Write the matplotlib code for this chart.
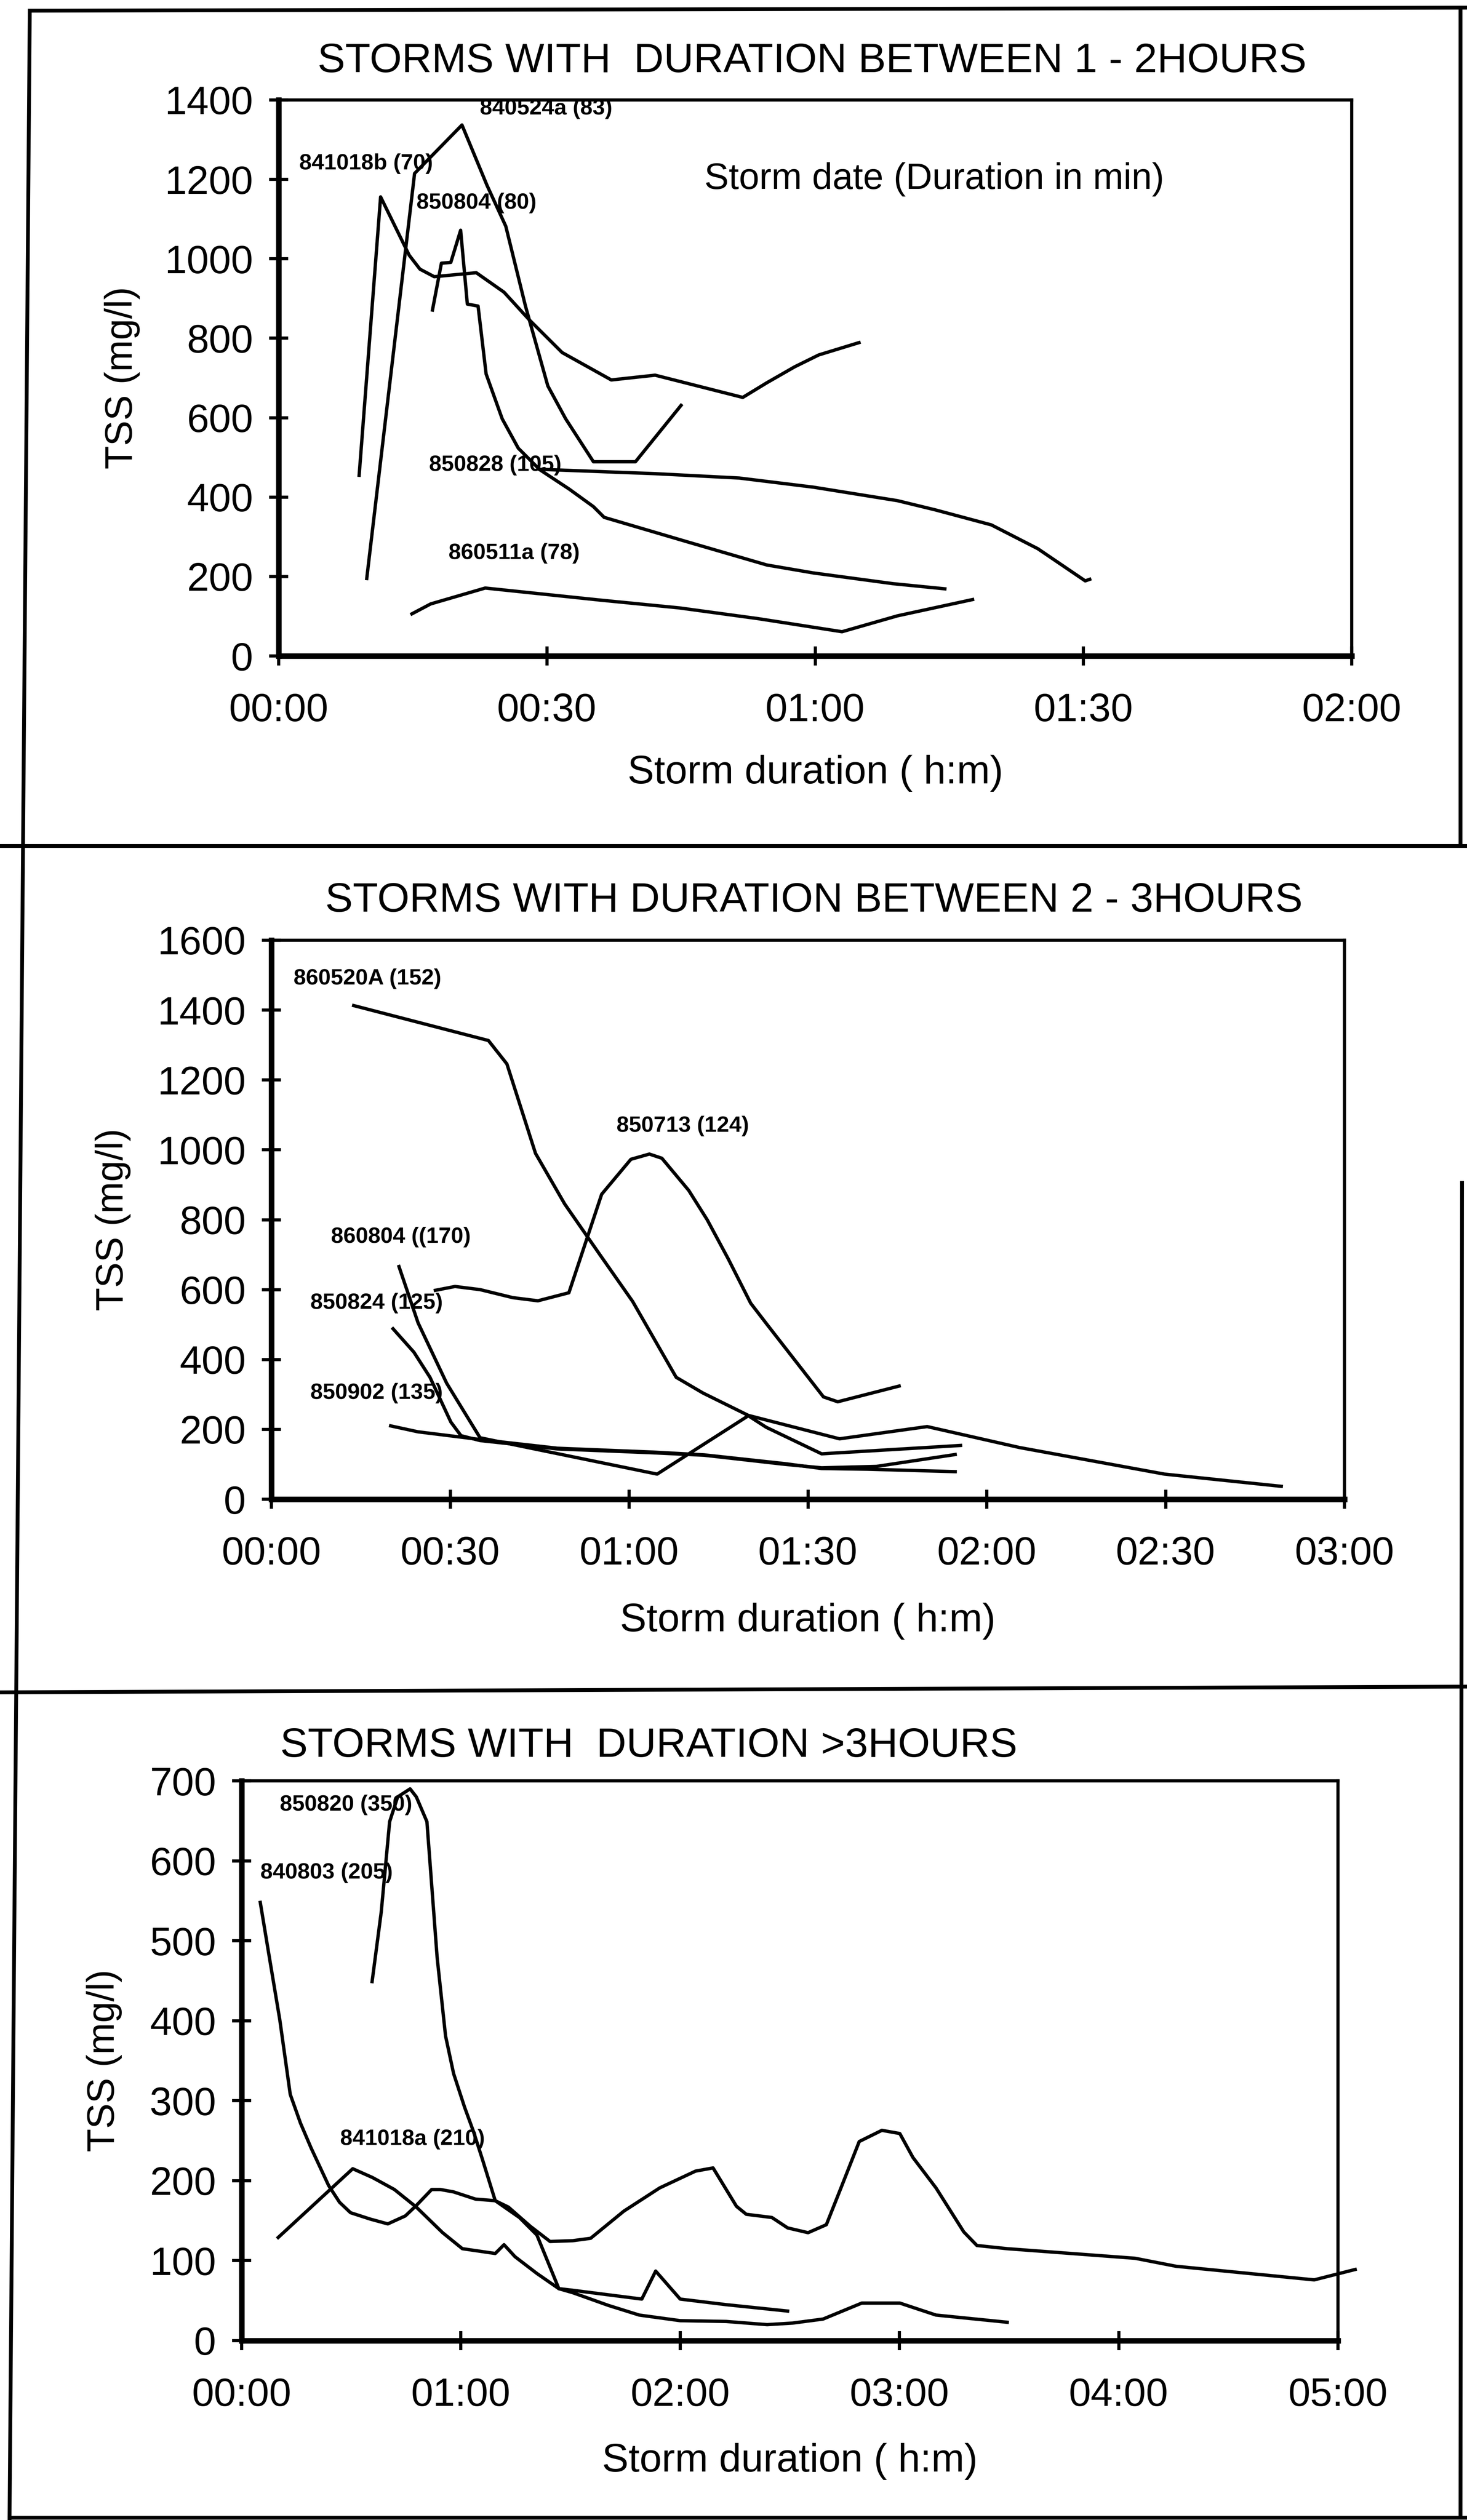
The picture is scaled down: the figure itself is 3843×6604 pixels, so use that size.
import matplotlib
matplotlib.use("Agg")
import matplotlib.pyplot as plt
from matplotlib.lines import Line2D

plt.rcParams['font.family'] = ['Liberation Sans', 'DejaVu Sans']

# ---- storms 1-2 hours: elapsed time (min) and TSS (mg/l)
s841018b_t = [9.0, 11.4, 14.6, 15.8, 17.4, 22.1, 25.2, 28.0, 31.7, 37.2, 42.1, 51.9, 54.6, 57.7, 60.4, 64.9]
s841018b_v = [455, 1156, 1009, 974, 955, 965, 916, 847, 764, 695, 707, 651, 688, 728, 758, 789]
s840524a_t = [9.85, 15.2, 20.5, 23.3, 25.4, 27.6, 30.1, 32.1, 35.2, 39.9, 45.0]
s840524a_v = [195, 1215, 1337, 1185, 1082, 881, 680, 597, 489, 489, 631]
s850804_t = [17.2, 18.2, 19.25, 20.35, 21.1, 22.3, 23.2, 25.0, 26.8, 29.2, 32.5, 35.2, 36.4, 45.6, 54.6, 59.8, 68.7, 74.5]
s850804_v = [871, 989, 991, 1072, 886, 881, 710, 597, 523, 469, 420, 376, 349, 288, 229, 209, 182, 169]
s850828_t = [29.2, 42.1, 51.5, 59.8, 69.2, 73.4, 79.7, 84.9, 90.2, 90.7]
s850828_v = [470, 459, 448, 425, 391, 368, 330, 270, 189, 193]
s860511a_t = [14.9, 17.0, 23.1, 35.8, 44.8, 53.6, 63.0, 69.2, 77.6]
s860511a_v = [106, 131, 171, 141, 121, 94, 61, 101, 142]

# ---- storms 2-3 hours
s860520A_t = [13.8, 36.4, 39.5, 44.3, 49.2, 55.1, 60.6, 67.9, 72.4, 80.0, 95.3, 110.0, 125.5, 149.8, 169.4]
s860520A_v = [1413, 1313, 1246, 990, 845, 700, 566, 349, 304, 240, 173, 208, 148, 72, 37]
s850713_t = [27.5, 30.8, 35.0, 40.5, 44.7, 49.9, 55.4, 60.3, 63.4, 65.5, 70.0, 73.1, 76.6, 80.4, 83.2, 92.6, 95.0, 105.3]
s850713_v = [598, 609, 600, 577, 568, 591, 873, 973, 988, 976, 884, 800, 689, 561, 499, 293, 279, 324]
s860804_t = [21.4, 24.6, 29.4, 35.0, 64.7, 80.0, 83.0, 92.3, 115.6]
s860804_v = [666, 505, 332, 176, 72, 239, 206, 130, 154]
s850824_t = [20.4, 23.9, 26.6, 30.1, 31.8, 35.0, 48.0, 64.0, 72.6, 86.1, 92.3, 101.5, 114.7]
s850824_v = [488, 421, 349, 221, 182, 168, 144, 133, 126, 100, 90, 94, 128]
s850902_t = [20.0, 24.6, 35.0, 48.0, 64.0, 72.6, 86.1, 92.3, 100.0, 114.7]
s850902_v = [210, 193, 171, 146, 135, 127, 102, 88, 86, 79]

# ---- storms longer than 3 hours
s840803_t = [5.1, 7.6, 10.45, 13.3, 16.1, 19.0, 23.8, 26.8, 29.8, 35.2, 40.0, 44.8, 47.8, 52.0, 54.4, 58.0,
             64.0, 69.4, 73.0, 79.0, 84.4, 90.6, 95.5, 104.6, 114.4, 124.2, 129.0, 135.4, 138.1, 145.1, 149.4,
             155.0, 160.0, 164.0, 169.0, 175.2, 180.1, 183.7, 190.0, 197.6, 201.2, 209.5, 244.5, 255.7, 293.5, 304.7]
s840803_v = [548, 479, 401, 308, 272, 241, 194, 173, 160, 152, 146, 156, 169, 189, 189, 186,
             177, 175, 167, 143, 124, 125, 128, 162, 191, 212, 216, 168, 158, 154, 141,
             135, 145, 191, 249, 263, 259, 229, 191, 136, 119, 115, 103, 93, 76, 89]
s841018a_t = [10.0, 30.4, 35.8, 41.8, 47.8, 55.0, 60.4, 69.4, 71.8, 74.8, 80.8, 86.8, 90.6, 100.4, 108.8,
              120.0, 132.6, 143.8, 150.8, 159.1, 169.7, 180.1, 190.0, 209.5]
s841018a_v = [129, 215, 204, 189, 167, 135, 115, 109, 120, 105, 84, 65, 60, 44, 32,
              25, 24, 20, 22, 27, 47, 47, 32, 23]
s850820_t = [35.7, 38.2, 40.5, 42.7, 46.1, 47.8, 50.7, 53.5, 55.8, 58.0, 61.0, 63.4, 65.8, 69.4, 76.0,
             80.8, 86.8, 90.6, 109.5, 113.3, 120.0, 132.6, 149.4]
s850820_v = [449, 536, 649, 680, 690, 680, 649, 479, 381, 334, 292, 262, 228, 175, 154,
             132, 65, 63, 52, 87, 52, 45, 37]

ticks_2h = ['00:00', '00:30', '01:00', '01:30', '02:00']
ticks_3h = ['00:00', '00:30', '01:00', '01:30', '02:00', '02:30', '03:00']
ticks_5h = ['00:00', '01:00', '02:00', '03:00', '04:00', '05:00']

W, H = 3843, 6604
fig = plt.figure(figsize=(W / 300, H / 300), dpi=300)


def px_axes(x0, x1, ytop, ybot):
    return fig.add_axes([x0 / W, 1 - ybot / H, (x1 - x0) / W, (ybot - ytop) / H])


def style(ax, xmax, xstep, xlabels, ymax, ystep, xlab_y, ylab_x):
    ax.set_xlim(0, xmax)
    ax.set_ylim(0, ymax)
    ax.set_xticks(range(0, xmax + 1, xstep))
    ax.set_xticklabels(xlabels)
    ax.set_yticks(range(0, ymax + 1, ystep))
    ax.tick_params(direction='inout', length=12, width=2, labelsize=25, color='black')
    ax.tick_params(axis='x', pad=17)
    ax.tick_params(axis='y', pad=10)
    for side in ['left', 'bottom']:
        ax.spines[side].set_linewidth(3.5)
    for side in ['top', 'right']:
        ax.spines[side].set_linewidth(2.0)
    ax.set_xlabel('Storm duration ( h:m)', fontsize=25)
    ax.xaxis.set_label_coords(0.5, xlab_y)
    ax.set_ylabel('TSS (mg/l)', fontsize=24)
    ax.yaxis.set_label_coords(ylab_x, 0.5)


def curve(ax, t, v):
    ax.plot(t, v, color='black', lw=2.1, solid_joinstyle='round', clip_on=False)


def tag(ax, x, y, s):
    ax.text(x, y, s, fontsize=14, fontweight='bold', va='center', ha='left')


# panel 1
ax1 = px_axes(730, 3541, 262, 1719)
curve(ax1, s841018b_t, s841018b_v)
curve(ax1, s840524a_t, s840524a_v)
curve(ax1, s850804_t, s850804_v)
curve(ax1, s850828_t, s850828_v)
curve(ax1, s860511a_t, s860511a_v)
style(ax1, 120, 30, ticks_2h, 1400, 200, -0.178, -0.129)
tag(ax1, 2.3, 1240, '841018b (70)')
tag(ax1, 22.5, 1378, '840524a (83)')
tag(ax1, 15.4, 1141, '850804 (80)')
tag(ax1, 16.8, 480, '850828 (105)')
tag(ax1, 19.0, 258, '860511a (78)')
ax1.text(47.6, 1200, 'Storm date (Duration in min)', fontsize=23, va='center', ha='left')

# panel 2
ax2 = px_axes(711, 3522, 2464, 3929)
curve(ax2, s860520A_t, s860520A_v)
curve(ax2, s850713_t, s850713_v)
curve(ax2, s860804_t, s860804_v)
curve(ax2, s850824_t, s850824_v)
curve(ax2, s850902_t, s850902_v)
style(ax2, 180, 30, ticks_3h, 1600, 200, -0.185, -0.131)
tag(ax2, 3.7, 1490, '860520A (152)')
tag(ax2, 57.9, 1068, '850713 (124)')
tag(ax2, 10.0, 750, '860804 ((170)')
tag(ax2, 6.5, 561, '850824 (125)')
tag(ax2, 6.5, 304, '850902 (135)')

# panel 3
ax3 = px_axes(633, 3505, 4667, 6134)
curve(ax3, s840803_t, s840803_v)
curve(ax3, s841018a_t, s841018a_v)
curve(ax3, s850820_t, s850820_v)
style(ax3, 300, 60, ticks_5h, 700, 100, -0.183, -0.109)
tag(ax3, 10.4, 670, '850820 (350)')
tag(ax3, 5.1, 585, '840803 (205)')
tag(ax3, 26.9, 252, '841018a (210)')

# panel titles
fig.text(2127 / W, 1 - 189 / H, 'STORMS WITH  DURATION BETWEEN 1 - 2HOURS',
         fontsize=26, ha='center', va='baseline')
fig.text(2132 / W, 1 - 2389 / H, 'STORMS WITH DURATION BETWEEN 2 - 3HOURS',
         fontsize=26, ha='center', va='baseline')
fig.text(1700 / W, 1 - 4604 / H, 'STORMS WITH  DURATION >3HOURS',
         fontsize=26, ha='center', va='baseline')


# outer frame and panel separators
def rule(x0, y0, x1, y1):
    fig.add_artist(Line2D([x0 / W, x1 / W], [1 - y0 / H, 1 - y1 / H],
                          transform=fig.transFigure, color='black', lw=2.4))


rule(78, 28, 3843, 20)
rule(78, 28, 25, 6600)
rule(0, 2217, 3843, 2217)
rule(0, 4435, 3843, 4420)
rule(25, 6598, 3843, 6598)
rule(3826, 20, 3826, 2217)
rule(3830, 3100, 3826, 6598)

fig.savefig('out.png', dpi=300, facecolor='white')
